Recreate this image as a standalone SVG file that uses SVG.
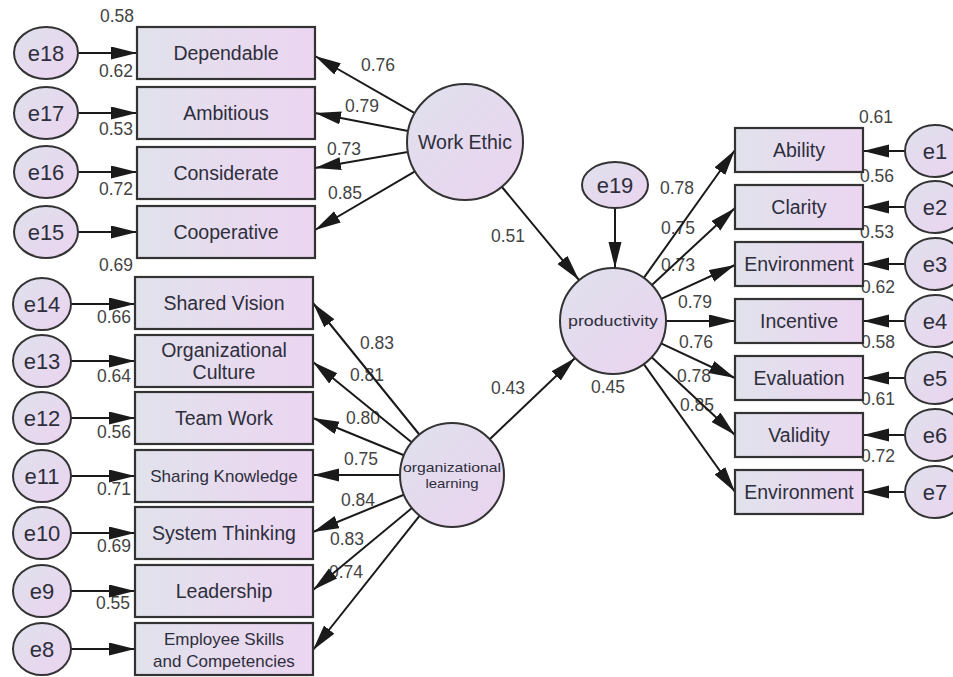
<svg xmlns="http://www.w3.org/2000/svg" width="953" height="677" viewBox="0 0 953 677">
<defs>
<linearGradient id="gBox" x1="0" y1="0" x2="1" y2="0">
<stop offset="0" stop-color="#e1e2ec"/>
<stop offset="1" stop-color="#ecd5f1"/>
</linearGradient>
<linearGradient id="gEll" x1="0" y1="0" x2="1" y2="1">
<stop offset="0" stop-color="#dfe1ec"/>
<stop offset="1" stop-color="#ebd3f0"/>
</linearGradient>
<marker id="ah" markerUnits="userSpaceOnUse" markerWidth="27" markerHeight="14" refX="26" refY="6.5" orient="auto">
<path d="M0,0 L26,6.5 L0,13 z" fill="#1a1a1a"/>
</marker>
<style>
.box{fill:url(#gBox);stroke:#333;stroke-width:2.2}
.ell{fill:url(#gEll);stroke:#333;stroke-width:2}
.lbl{font-family:"Liberation Sans",Arial,sans-serif;font-size:19.5px;fill:#2e2e3c;text-anchor:middle}
.sm{font-size:17px}
.el{font-family:"Liberation Sans",Arial,sans-serif;font-size:22px;fill:#2e2e3c;text-anchor:middle}
.num{font-family:"Liberation Sans",Arial,sans-serif;font-size:17.5px;fill:#444;text-anchor:middle}
.ln{stroke:#1a1a1a;stroke-width:2;fill:none;marker-end:url(#ah)}
</style>
</defs>
<rect width="953" height="677" fill="#ffffff"/>

<g id="labels">
<text class="num" x="117" y="22">0.58</text>
<text class="num" x="116" y="77">0.62</text>
<text class="num" x="116" y="135">0.53</text>
<text class="num" x="116" y="195">0.72</text>
<text class="num" x="116" y="271">0.69</text>
<text class="num" x="114" y="323">0.66</text>
<text class="num" x="114" y="382">0.64</text>
<text class="num" x="114" y="438">0.56</text>
<text class="num" x="114" y="495">0.71</text>
<text class="num" x="114" y="552">0.69</text>
<text class="num" x="113" y="609">0.55</text>
<text class="num" x="378" y="71">0.76</text>
<text class="num" x="362" y="112">0.79</text>
<text class="num" x="344" y="155">0.73</text>
<text class="num" x="345" y="199">0.85</text>
<text class="num" x="508" y="242">0.51</text>
<text class="num" x="377" y="349">0.83</text>
<text class="num" x="367" y="381">0.81</text>
<text class="num" x="363" y="424">0.80</text>
<text class="num" x="361" y="465">0.75</text>
<text class="num" x="358" y="506">0.84</text>
<text class="num" x="347" y="545">0.83</text>
<text class="num" x="346" y="578">0.74</text>
<text class="num" x="508" y="394">0.43</text>
<text class="num" x="608" y="393">0.45</text>
<text class="num" x="677" y="194">0.78</text>
<text class="num" x="678" y="234">0.75</text>
<text class="num" x="678" y="271">0.73</text>
<text class="num" x="695" y="308">0.79</text>
<text class="num" x="696" y="348">0.76</text>
<text class="num" x="694" y="382">0.78</text>
<text class="num" x="697" y="411">0.85</text>
<text class="num" x="876" y="123">0.61</text>
<text class="num" x="877" y="182">0.56</text>
<text class="num" x="877" y="238">0.53</text>
<text class="num" x="878" y="293">0.62</text>
<text class="num" x="878" y="348">0.58</text>
<text class="num" x="878" y="405">0.61</text>
<text class="num" x="878" y="462">0.72</text>
</g>

<g id="connectors">
<line class="ln" x1="79" y1="53" x2="137" y2="53"/>
<line class="ln" x1="79" y1="113" x2="137" y2="113"/>
<line class="ln" x1="79" y1="172" x2="137" y2="172"/>
<line class="ln" x1="79" y1="232" x2="137" y2="232"/>
<line class="ln" x1="71" y1="304" x2="135" y2="304"/>
<line class="ln" x1="71" y1="361" x2="135" y2="361"/>
<line class="ln" x1="71" y1="418" x2="135" y2="418"/>
<line class="ln" x1="71" y1="476" x2="135" y2="476"/>
<line class="ln" x1="71" y1="533" x2="135" y2="533"/>
<line class="ln" x1="71" y1="591" x2="135" y2="591"/>
<line class="ln" x1="71" y1="649" x2="135" y2="649"/>
<line class="ln" x1="414.7" y1="113.2" x2="315" y2="56"/>
<line class="ln" x1="408.1" y1="131" x2="315" y2="113"/>
<line class="ln" x1="407.8" y1="151.9" x2="315" y2="168"/>
<line class="ln" x1="415" y1="171.3" x2="315" y2="230"/>
<line class="ln" x1="502" y1="187" x2="579" y2="280"/>
<line class="ln" x1="419.3" y1="434.5" x2="313" y2="303"/>
<line class="ln" x1="411.6" y1="442.2" x2="313" y2="362"/>
<line class="ln" x1="403.9" y1="455.3" x2="313" y2="418"/>
<line class="ln" x1="400" y1="475" x2="313" y2="475"/>
<line class="ln" x1="403.9" y1="494.7" x2="313" y2="532"/>
<line class="ln" x1="411.9" y1="508.1" x2="313" y2="590"/>
<line class="ln" x1="419.7" y1="515.7" x2="313" y2="650"/>
<line class="ln" x1="490" y1="439" x2="575" y2="358"/>
<line class="ln" x1="615" y1="208" x2="615" y2="268"/>
<line class="ln" x1="643.8" y1="277.9" x2="735" y2="150"/>
<line class="ln" x1="651.9" y1="285" x2="735" y2="208"/>
<line class="ln" x1="661.2" y1="298.9" x2="735" y2="265"/>
<line class="ln" x1="666" y1="321" x2="735" y2="321"/>
<line class="ln" x1="661" y1="343.4" x2="735" y2="378"/>
<line class="ln" x1="651.7" y1="357.2" x2="735" y2="435"/>
<line class="ln" x1="643.8" y1="364.1" x2="735" y2="492"/>
<line class="ln" x1="905" y1="151" x2="863" y2="151"/>
<line class="ln" x1="905" y1="207" x2="863" y2="207"/>
<line class="ln" x1="905" y1="264" x2="863" y2="264"/>
<line class="ln" x1="905" y1="321" x2="863" y2="321"/>
<line class="ln" x1="905" y1="378" x2="863" y2="378"/>
<line class="ln" x1="905" y1="435" x2="863" y2="435"/>
<line class="ln" x1="905" y1="492" x2="863" y2="492"/>
</g>

<g id="e18"><ellipse class="ell" cx="46" cy="53" rx="32" ry="26"/><text class="el" x="46" y="61">e18</text></g>
<g id="e17"><ellipse class="ell" cx="46" cy="113" rx="32" ry="26"/><text class="el" x="46" y="121">e17</text></g>
<g id="e16"><ellipse class="ell" cx="46" cy="172" rx="32" ry="26"/><text class="el" x="46" y="180">e16</text></g>
<g id="e15"><ellipse class="ell" cx="46" cy="232" rx="32" ry="26"/><text class="el" x="46" y="240">e15</text></g>
<g id="e14"><ellipse class="ell" cx="42" cy="304" rx="29" ry="26"/><text class="el" x="42" y="312">e14</text></g>
<g id="e13"><ellipse class="ell" cx="42" cy="361" rx="29" ry="26"/><text class="el" x="42" y="369">e13</text></g>
<g id="e12"><ellipse class="ell" cx="42" cy="418" rx="29" ry="26"/><text class="el" x="42" y="426">e12</text></g>
<g id="e11"><ellipse class="ell" cx="42" cy="476" rx="29" ry="26"/><text class="el" x="42" y="484">e11</text></g>
<g id="e10"><ellipse class="ell" cx="42" cy="533" rx="29" ry="26"/><text class="el" x="42" y="541">e10</text></g>
<g id="e9"><ellipse class="ell" cx="42" cy="591" rx="29" ry="26"/><text class="el" x="42" y="599">e9</text></g>
<g id="e8"><ellipse class="ell" cx="42" cy="649" rx="29" ry="26"/><text class="el" x="42" y="657">e8</text></g>

<g id="dependable"><rect class="box" x="137" y="27" width="178" height="52"/><text class="lbl" x="226" y="60">Dependable</text></g>
<g id="ambitious"><rect class="box" x="137" y="87" width="178" height="52"/><text class="lbl" x="226" y="120">Ambitious</text></g>
<g id="considerate"><rect class="box" x="137" y="147" width="178" height="52"/><text class="lbl" x="226" y="180">Considerate</text></g>
<g id="cooperative"><rect class="box" x="137" y="206" width="178" height="52"/><text class="lbl" x="226" y="239">Cooperative</text></g>

<g id="shared-vision"><rect class="box" x="135" y="277" width="178" height="52"/><text class="lbl" x="224" y="310">Shared Vision</text></g>
<g id="org-culture"><rect class="box" x="135" y="335" width="178" height="52"/><text class="lbl" x="224" y="357">Organizational</text><text class="lbl" x="224" y="379">Culture</text></g>
<g id="team-work"><rect class="box" x="135" y="392" width="178" height="52"/><text class="lbl" x="224" y="425">Team Work</text></g>
<g id="sharing-knowledge"><rect class="box" x="135" y="450" width="178" height="52"/><text class="lbl sm" x="224" y="482">Sharing Knowledge</text></g>
<g id="system-thinking"><rect class="box" x="135" y="507" width="178" height="52"/><text class="lbl" x="224" y="540">System Thinking</text></g>
<g id="leadership"><rect class="box" x="135" y="565" width="178" height="52"/><text class="lbl" x="224" y="598">Leadership</text></g>
<g id="employee-skills"><rect class="box" x="135" y="623" width="178" height="52"/><text class="lbl sm" x="224" y="645">Employee Skills</text><text class="lbl sm" x="224" y="667">and Competencies</text></g>

<g id="work-ethic"><circle class="ell" cx="465" cy="142" r="58"/><text class="lbl" x="465" y="149">Work Ethic</text></g>
<g id="org-learning"><circle class="ell" cx="452" cy="475" r="52"/><text class="lbl" style="font-size:13px" x="452" y="472" textLength="98" lengthAdjust="spacingAndGlyphs">organizational</text><text class="lbl" style="font-size:13px" x="452" y="488" textLength="53" lengthAdjust="spacingAndGlyphs">learning</text></g>
<g id="productivity"><circle class="ell" cx="613" cy="321" r="53"/><text class="lbl" style="font-size:15px" x="613" y="326" textLength="90" lengthAdjust="spacingAndGlyphs">productivity</text></g>
<g id="e19"><ellipse class="ell" cx="615" cy="185" rx="33" ry="23"/><text class="el" x="615" y="193">e19</text></g>

<g id="ability"><rect class="box" x="735" y="128" width="128" height="44"/><text class="lbl" x="799" y="157">Ability</text></g>
<g id="clarity"><rect class="box" x="735" y="185" width="128" height="44"/><text class="lbl" x="799" y="214">Clarity</text></g>
<g id="environment1"><rect class="box" x="735" y="242" width="128" height="44"/><text class="lbl" x="799" y="271">Environment</text></g>
<g id="incentive"><rect class="box" x="735" y="299" width="128" height="44"/><text class="lbl" x="799" y="328">Incentive</text></g>
<g id="evaluation"><rect class="box" x="735" y="356" width="128" height="44"/><text class="lbl" x="799" y="385">Evaluation</text></g>
<g id="validity"><rect class="box" x="735" y="413" width="128" height="44"/><text class="lbl" x="799" y="442">Validity</text></g>
<g id="environment2"><rect class="box" x="735" y="470" width="128" height="44"/><text class="lbl" x="799" y="499">Environment</text></g>

<g id="e1"><ellipse class="ell" cx="935" cy="151" rx="30" ry="26"/><text class="el" x="935" y="159">e1</text></g>
<g id="e2"><ellipse class="ell" cx="935" cy="207" rx="30" ry="26"/><text class="el" x="935" y="215">e2</text></g>
<g id="e3"><ellipse class="ell" cx="935" cy="264" rx="30" ry="26"/><text class="el" x="935" y="272">e3</text></g>
<g id="e4"><ellipse class="ell" cx="935" cy="321" rx="30" ry="26"/><text class="el" x="935" y="329">e4</text></g>
<g id="e5"><ellipse class="ell" cx="935" cy="378" rx="30" ry="26"/><text class="el" x="935" y="386">e5</text></g>
<g id="e6"><ellipse class="ell" cx="935" cy="435" rx="30" ry="26"/><text class="el" x="935" y="443">e6</text></g>
<g id="e7"><ellipse class="ell" cx="935" cy="492" rx="30" ry="26"/><text class="el" x="935" y="500">e7</text></g>
</svg>
